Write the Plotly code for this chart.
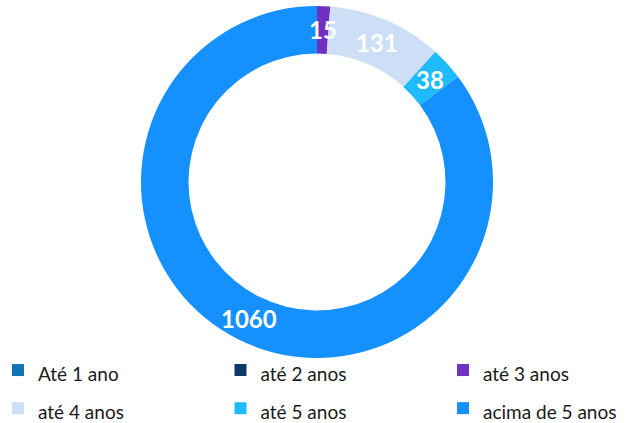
import math
import plotly.graph_objects as go

labels = ["Até 1 ano", "até 2 anos", "até 3 anos", "até 4 anos", "até 5 anos", "acima de 5 anos"]
values = [0, 0, 15, 131, 38, 1060]
colors = ["#0F75B5", "#0B3A66", "#7030C0", "#CCDFF7", "#1FBBFF", "#1490FF"]

W, H = 632, 423
dom_x = [141 / W, 493 / W]
dom_y = [1 - 358 / H, 1 - 6 / H]
hole = 0.73

fig = go.Figure()
fig.add_trace(go.Pie(
    labels=labels, values=values, marker=dict(colors=colors, line=dict(width=0)),
    hole=hole, sort=False, direction="clockwise", rotation=0,
    textinfo="none", domain=dict(x=dom_x, y=dom_y),
    showlegend=False, hoverinfo="label+value+percent",
))

# legend entries laid out in three columns (one legend per column)
legend_names = ["legend", "legend2", "legend3"]
for i, (lab, col) in enumerate(zip(labels, colors)):
    fig.add_trace(go.Scatter(
        x=[None], y=[None], mode="markers",
        name=f"<span style='font-size:19px'>{lab}</span>",
        marker=dict(symbol="square", size=12, color=col, line=dict(width=0)),
        legend=legend_names[i % 3], showlegend=True, hoverinfo="skip",
    ))

# value labels at mid-angle, mid-ring (computed from data)
cx = (dom_x[0] + dom_x[1]) / 2 * W
cy = (1 - (dom_y[0] + dom_y[1]) / 2) * H
R = (dom_x[1] - dom_x[0]) * W / 2
rmid = R * (1 + hole) / 2
total = sum(values)
cum = 0
for lab, v in zip(labels, values):
    if v > 0:
        ang = (cum + v / 2) / total * 2 * math.pi
        px = cx + rmid * math.sin(ang)
        py = cy - rmid * math.cos(ang)
        fig.add_annotation(x=px / W, y=1 - py / H, xref="paper", yref="paper",
                           xanchor="center", yanchor="middle",
                           text=f"<b>{v}</b>", showarrow=False,
                           font=dict(family="Lato", size=24, color="white"))
    cum += v

leg_common = dict(orientation="v", y=-10 / H, xanchor="left", yanchor="bottom",
                  bgcolor="rgba(0,0,0,0)", traceorder="normal",
                  font=dict(family="Lato", size=27, color="#1a1a1a"))
col_left = [-2, 220.5, 443]

fig.update_layout(
    width=W, height=H, margin=dict(l=0, r=0, t=0, b=0, autoexpand=False),
    paper_bgcolor="white", plot_bgcolor="white",
    font=dict(family="Lato", size=16, color="#1a1a1a"),
    xaxis=dict(visible=False, range=[0, 1]),
    yaxis=dict(visible=False, range=[0, 1]),
    legend=dict(x=col_left[0] / W, **leg_common),
    legend2=dict(x=col_left[1] / W, **leg_common),
    legend3=dict(x=col_left[2] / W, **leg_common),
)
fig.write_html("out.html", config={"displayModeBar": False},
               post_script="document.body.style.margin='0';")
